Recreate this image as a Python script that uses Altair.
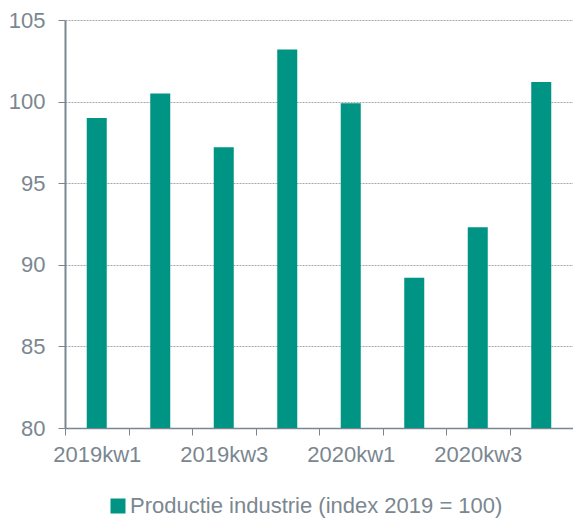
import altair as alt
import pandas as pd

quarters = ["2019kw1", "2019kw2", "2019kw3", "2019kw4", "2020kw1", "2020kw2", "2020kw3", "2020kw4"]
values = [99.0, 100.5, 97.2, 103.2, 99.9, 89.2, 92.3, 101.2]
series_name = "Productie industrie (index 2019 = 100)"
y_ticks = [80, 85, 90, 95, 100, 105]
y_min = 80

df = pd.DataFrame({"kwartaal": quarters, "waarde": values, "reeks": [series_name] * len(quarters)})

grey = "#7b8790"
font = "Liberation Sans"

chart = alt.Chart(df).mark_bar(size=20).encode(
    x=alt.X("kwartaal:N", sort=quarters, title=None,
            scale=alt.Scale(paddingInner=0, paddingOuter=0),
            axis=alt.Axis(labelAngle=0, tickBand="extent", grid=False,
                          labelExpr="indexof(['2019kw1','2019kw3','2020kw1','2020kw3'], datum.value) >= 0 ? datum.value : ''",
                          labelFontSize=22, labelColor=grey, labelFont=font, labelPadding=9,
                          domainColor=grey, tickColor=grey, tickSize=7, domainWidth=1.5)),
    y=alt.Y("waarde:Q", title=None,
            scale=alt.Scale(domain=[80, 105], nice=False, zero=False),
            axis=alt.Axis(values=y_ticks, labelFontSize=22, labelColor=grey, labelFont=font,
                          labelPadding=13, domainColor=grey, domainWidth=2, tickColor=grey, tickSize=7,
                          gridColor="#8a949c", gridDash=[2, 1], gridWidth=0.8)),
    y2=alt.datum(y_min),
    color=alt.Color("reeks:N", scale=alt.Scale(range=["#009484"]),
                    legend=alt.Legend(title=None, orient="none", legendX=42, legendY=475,
                                      symbolType="square", symbolSize=225, symbolStrokeWidth=0,
                                      labelFontSize=22, labelColor=grey, labelFont=font, labelLimit=600,
                                      labelOffset=1)),
).properties(
    width=508, height=408,
    autosize=alt.AutoSizeParams(type="none"),
    padding={"left": 57, "top": 12, "right": 0, "bottom": 91},
).configure_view(stroke=None)

chart.save("out.html", embed_options={"renderer": "svg", "actions": False})
